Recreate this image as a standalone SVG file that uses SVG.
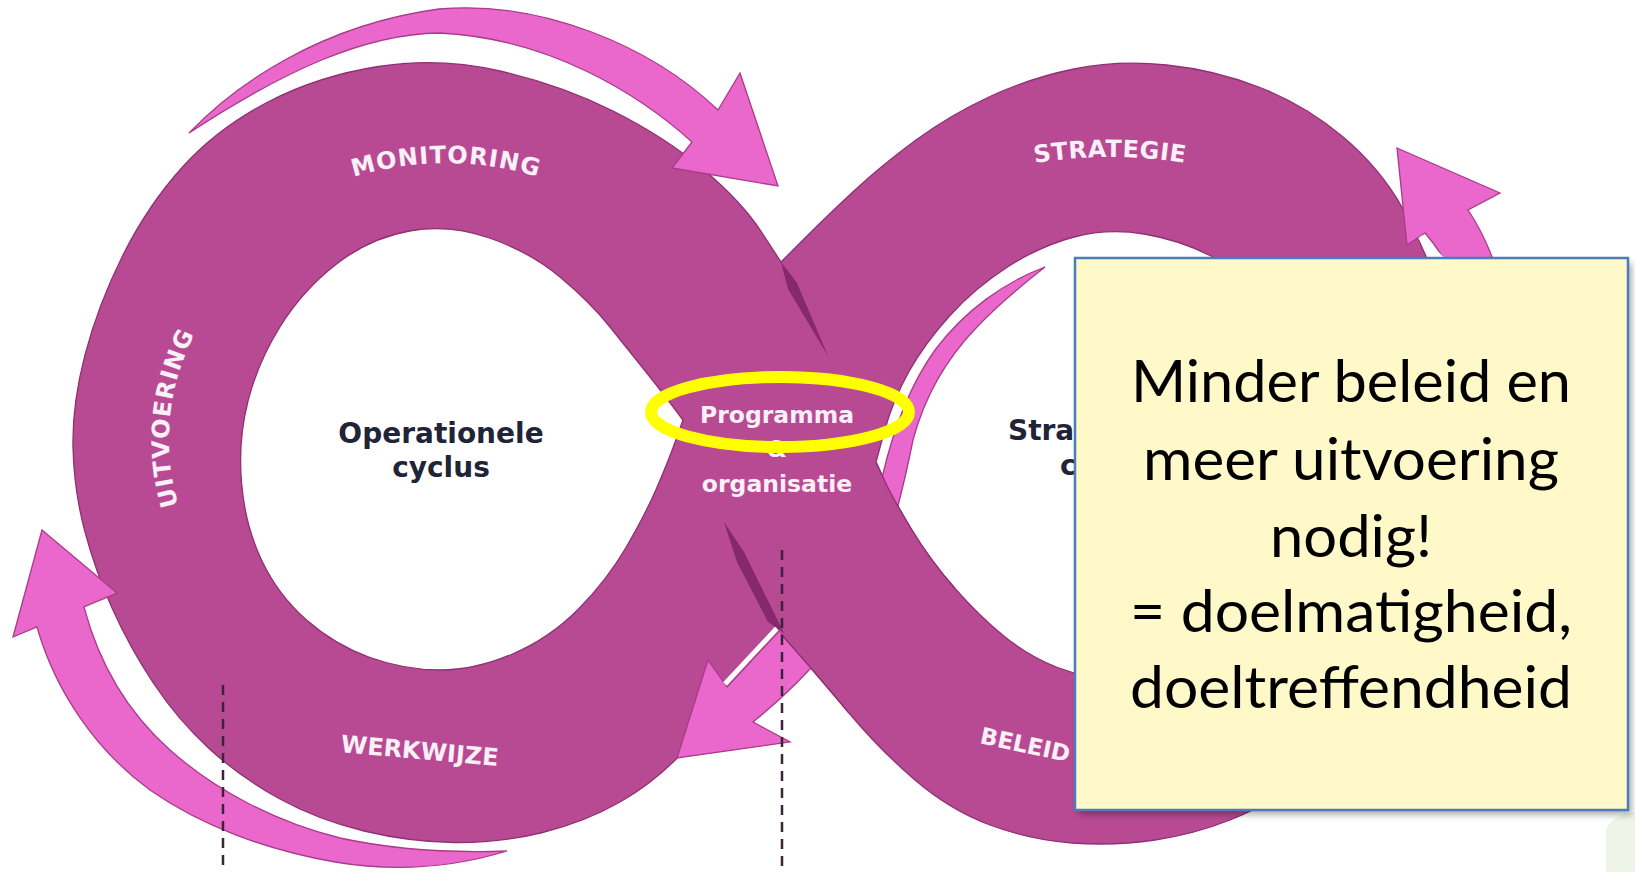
<svg xmlns="http://www.w3.org/2000/svg" width="1635" height="872" viewBox="0 0 1635 872">
<defs>
<style>
.band{fill:#b84a93;stroke:#8f2f74;stroke-width:1.3;fill-rule:evenodd}
.patch{fill:#b84a93}
.edge{fill:none;stroke:#8f2f74;stroke-width:1.3}
.arrow{fill:#ea68cb;stroke:#a93b8a;stroke-width:1.3;stroke-linejoin:miter}
.gap{fill:none;stroke:#fff;stroke-width:5;stroke-linecap:butt}
.wedge{fill:#86286c}
.lbl{font-family:"DejaVu Sans",Verdana,sans-serif;font-weight:bold;fill:#fbeff8}
.dark{font-family:"DejaVu Sans",Verdana,sans-serif;font-weight:bold;fill:#1f2436;font-size:28px}
.dash{stroke:#3b2438;stroke-width:2.5;stroke-dasharray:10 7;fill:none}
.note{font-family:Lato,"Liberation Sans",sans-serif;font-size:58px;fill:#000;text-anchor:middle}
</style>
<filter id="blur" x="-5%" y="-5%" width="110%" height="110%"><feGaussianBlur stdDeviation="3"/></filter>
<path id="pM" d="M316,191 A318,318 0 0 1 576,191"/>
<path id="pS" d="M990,172.5 A472,472 0 0 1 1230,172.5"/>
<path id="pU" d="M179,507.5 A231,231 0 0 1 196,331.5"/>
</defs>
<rect width="1635" height="872" fill="#fff"/>

<g id="figure-eight">
<path class="band" d="M781,262 L761.5,232 Q742,202 703.5,169.5 Q665,137 613,111 Q561,85 500,71 Q439,57 378.5,66.5 Q318,76 268,102 Q218,128 183,166.5 Q148,205 123,255 Q98,305 85,355 Q72,405 73,447.5 Q74,490 84.5,530 Q95,570 112.5,609 Q130,648 154,684 Q178,720 209,748.5 Q240,777 279,798.5 Q318,820 364,831 Q410,842 455,842.5 Q500,843 542.5,832.5 Q585,822 620,802 Q655,782 681.5,753.5 Q708,725 744.5,679.5 L781,634 L799.5,655 Q818,676 849,713 Q880,750 915,780 Q950,810 990,825 Q1030,840 1072.5,843 Q1115,846 1155,840 Q1195,834 1230,820 Q1265,806 1305,780.5 Q1345,755 1378.5,711.5 Q1412,668 1432,613 Q1452,558 1457.5,499 Q1463,440 1456.5,384 Q1450,328 1437.5,288 Q1425,248 1402.5,208 Q1380,168 1342.5,136.5 Q1305,105 1260,87.5 Q1215,70 1166.5,65 Q1118,60 1074,69 Q1030,78 990,96.5 Q950,115 916,140 Q882,165 855,190 Q828,215 804.5,238.5 L781,262 Z
M683,420 L672.5,406 Q662,392 646,372 Q630,352 610,327 Q590,302 560,277 Q530,252 489.5,238 Q449,224 409.5,231 Q370,238 336.5,264 Q303,290 280.5,326 Q258,362 248,401 Q238,440 241.5,482.5 Q245,525 261.5,560 Q278,595 306.5,620 Q335,645 370,657.5 Q405,670 440,670 Q475,670 512.5,654 Q550,638 578.5,609 Q607,580 626,547.5 Q645,515 656.5,488.5 Q668,462 675.5,441 L683,420 Z
M876,462 L884,479.5 Q892,497 911,528.5 Q930,560 955,588.5 Q980,617 1005,637 Q1030,657 1057.5,667.5 Q1085,678 1120,680 Q1155,682 1191.5,667 Q1228,652 1255,615 Q1282,578 1292,520 Q1302,462 1294.5,402 Q1287,342 1264.5,307 Q1242,272 1211,256 Q1180,240 1144,234 Q1108,228 1074,237 Q1040,246 1007.5,267 Q975,288 950,315.5 Q925,343 909,371.5 Q893,400 884.5,431 L876,462 Z"/>
</g>

<g id="connectors">
<path id="arrow-top" class="arrow" d="M189,133 C235,85 320,25 439,9 C540,0 650,45 718,110 L740,73 L778,186 L672,168 L692,142 C640,95 550,38 439,33 C365,34 285,70 189,133 Z"/>
<path id="arrow-left" class="arrow" d="M42,530 L117,593 L84,607 C98,660 125,710 170,750 C215,790 275,822 340,838 C395,850 450,853 507,851 C455,867 395,872 335,862 C265,850 200,825 150,790 C95,750 55,690 37,627 L13,637 Z"/>
<path id="arrow-right" class="arrow" d="M1397,148 L1500,193 L1468,210 C1485,235 1500,270 1510,320 L1515,420 L1470,420 L1465,320 C1460,290 1447,258 1425,233 L1407,245 Z"/>
<path id="arrow-middle" class="arrow" d="M1045,267 C1005,282 965,310 935,350 C910,385 893,430 882,478 C870,530 850,580 782,628 L727,687 L708,660 L677,758 L790,742 L753,722 C805,680 855,625 880,565 C896,520 905,480 913,440 C925,395 948,357 977,327 C1000,303 1022,285 1045,267 Z"/>
<path class="gap" d="M725,684 L780,625"/>
<path class="gap" d="M1420,237 L1445,262"/>
<path class="patch" d="M862,432 L876,462 L884,479.5 Q892,497 911,528.5 Q930,560 940,571 L849,713 Q818,676 799.5,655 L781,634 L765,612 Z"/>
<path class="edge" d="M876,462 L884,479.5 Q892,497 911,528.5 Q930,560 955,588.5"/>
<path class="edge" d="M781,634 L799.5,655 Q818,676 849,713"/>
<path class="wedge" d="M781,262 L797,283 L828,356 L788,289 Z"/>
<path class="wedge" d="M724,522 L744,552 L784,633 L768,622 L737,562 Z"/>
</g>

<g id="guides">
<path class="dash" d="M223,685 V872"/>
<path class="dash" d="M782,550 V872"/>
</g>

<g id="labels">
<text class="lbl" font-size="24" letter-spacing="1" text-anchor="middle"><textPath href="#pM" startOffset="50%">MONITORING</textPath></text>
<text class="lbl" font-size="24" letter-spacing="0.5" text-anchor="middle"><textPath href="#pS" startOffset="50%">STRATEGIE</textPath></text>
<text class="lbl" font-size="24" letter-spacing="1" text-anchor="middle"><textPath href="#pU" startOffset="50%">UITVOERING</textPath></text>
<text class="lbl" font-size="24" x="419" y="759" text-anchor="middle" transform="rotate(5 419 759)">WERKWIJZE</text>
<text class="lbl" font-size="23" x="979" y="743" transform="rotate(12 979 743)">BELEID</text>
<text class="lbl" font-size="23.5" x="777" y="423" text-anchor="middle">Programma</text>
<text class="lbl" font-size="23" x="777" y="457" text-anchor="middle">&amp;</text>
<text class="lbl" font-size="23.5" x="777" y="492" text-anchor="middle">organisatie</text>
</g>

<g id="node-operationele">
<text class="dark" x="441" y="443" text-anchor="middle">Operationele</text>
<text class="dark" x="441" y="477" text-anchor="middle">cyclus</text>
</g>
<g id="node-strategische">
<text class="dark" x="1008" y="440">Stra</text>
<text class="dark" x="1060" y="475">c</text>
</g>

<g id="highlight">
<ellipse cx="780" cy="412" rx="129" ry="35" fill="none" stroke="#ffff00" stroke-width="12"/>
</g>

<g id="note-box">
<path d="M1606,872 L1606,830 Q1612,815 1635,812 L1635,872 Z" fill="#eef5e8"/>
<rect x="1079" y="263" width="553" height="552" fill="#000" opacity="0.3" filter="url(#blur)"/>
<rect x="1075" y="258" width="553" height="552" fill="#fff8c9" stroke="#4a7ebb" stroke-width="2.5"/>
<text class="note" x="1351" y="402" textLength="440" lengthAdjust="spacingAndGlyphs">Minder beleid en</text>
<text class="note" x="1351" y="480" textLength="416" lengthAdjust="spacingAndGlyphs">meer uitvoering</text>
<text class="note" x="1351" y="557" textLength="162" lengthAdjust="spacingAndGlyphs">nodig!</text>
<text class="note" x="1351" y="632" textLength="442" lengthAdjust="spacingAndGlyphs">= doelmatigheid,</text>
<text class="note" x="1351" y="708" textLength="442" lengthAdjust="spacingAndGlyphs">doeltreffendheid</text>
</g>
</svg>
